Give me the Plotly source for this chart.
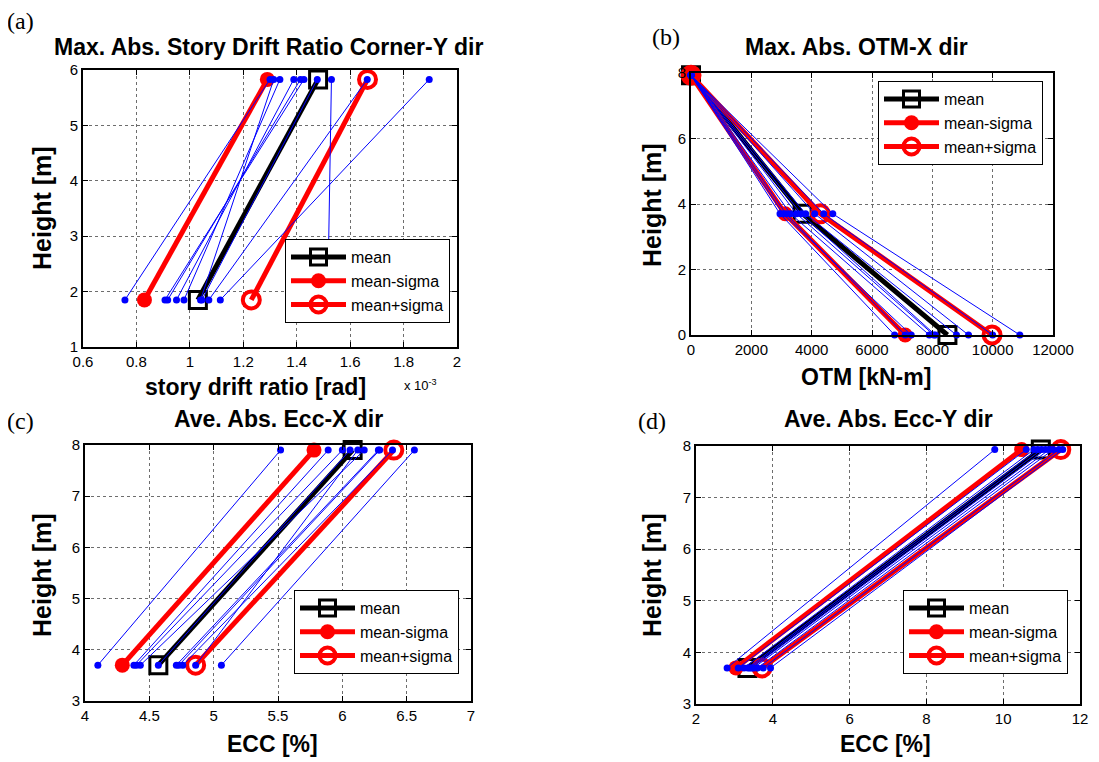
import plotly.graph_objects as go

# page body has an 8px margin, so the figure is drawn 8px in from the top-left
OFF = 8
W, H = 1099 - OFF, 762 - OFF

# ---------------- data ----------------
# (a) Max. Abs. Story Drift Ratio Corner-Y dir  (x values in units of 1e-3 rad)
a_heights = [1.85, 5.83]
a_runs_low = [0.757, 0.907, 0.917, 0.950, 0.978, 1.040, 1.071, 1.114, 1.516, 1.045]
a_runs_high = [1.300, 1.427, 1.414, 1.389, 1.337, 1.314, 1.664, 1.896, 1.530, 1.477]
a_mean = [1.03, 1.48]
a_mean_minus = [0.83, 1.29]
a_mean_plus = [1.23, 1.665]

# (b) Max. Abs. OTM-X dir  (kN-m)
b_heights = [0.0, 3.7, 7.93]
b_runs_base = [6750, 7300, 7100, 7900, 8050, 8100, 8800, 9200, 10000, 10900]
b_runs_mid = [2950, 3050, 3150, 3300, 3500, 3650, 3800, 4100, 4400, 4700]
b_runs_top = [0, 0, 0, 0, 0, 0, 0, 0, 0, 0]
b_mean = [8500, 3700, 0]
b_mean_minus = [7100, 3120, 0]
b_mean_plus = [9980, 4290, 0]

# (c) Ave. Abs. Ecc-X dir  (%)
c_heights = [3.7, 7.9]
c_runs_low = [4.10, 4.38, 4.40, 4.43, 4.57, 4.71, 4.73, 4.76, 4.86, 5.06]
c_runs_high = [5.52, 5.89, 6.00, 6.17, 6.06, 6.28, 6.29, 6.39, 6.12, 6.56]
c_mean = [4.57, 6.08]
c_mean_minus = [4.29, 5.78]
c_mean_plus = [4.86, 6.40]

# (d) Ave. Abs. Ecc-Y dir  (%)
d_heights = [3.7, 7.93]
d_runs_low = [2.81, 3.10, 3.25, 3.35, 3.40, 3.45, 3.50, 3.60, 3.75, 3.94]
d_runs_high = [9.78, 10.60, 10.80, 10.90, 11.00, 11.10, 11.20, 11.30, 11.45, 11.55]
d_mean = [3.34, 10.98]
d_mean_minus = [3.04, 10.48]
d_mean_plus = [3.72, 11.50]

titles = ["Max. Abs. Story Drift Ratio Corner-Y dir", "Max. Abs. OTM-X dir",
          "Ave. Abs. Ecc-X dir", "Ave. Abs. Ecc-Y dir"]
xlabels = ["story drift ratio [rad]", "OTM [kN-m]", "ECC [%]", "ECC [%]"]
ylabel = "Height [m]"
panel_tags = ["(a)", "(b)", "(c)", "(d)"]
legend_names = ["mean", "mean-sigma", "mean+sigma"]

# ---------------- layout helpers ----------------
def px_x(p):
    return (p - OFF) / W

def px_y(p):
    return 1 - (p - OFF) / H

FONT = "Liberation Sans, Arial, sans-serif"
SERIF = "Liberation Serif, Times New Roman, serif"

panels = [
    dict(xd=(83, 457), yd=(70, 347), xr=[0.6, 2.0], yr=[1, 6], dx=0.2, dy=1, leg=(285, 239)),
    dict(xd=(691, 1053), yd=(73, 335), xr=[0, 12000], yr=[0, 8], dx=2000, dy=2, leg=(878, 81)),
    dict(xd=(85, 471), yd=(445, 701), xr=[4, 7], yr=[3, 8], dx=0.5, dy=1, leg=(294, 590)),
    dict(xd=(696, 1080), yd=(446, 704), xr=[2, 12], yr=[3, 8], dx=2, dy=1, leg=(903, 590)),
]

fig = go.Figure()

def series_for(i):
    if i == 0:
        runs = [[lo, hi] for lo, hi in zip(a_runs_low, a_runs_high)]
        return a_heights, runs, a_mean, a_mean_minus, a_mean_plus
    if i == 1:
        runs = [[b0, m, t] for b0, m, t in zip(b_runs_base, b_runs_mid, b_runs_top)]
        return b_heights, runs, b_mean, b_mean_minus, b_mean_plus
    if i == 2:
        runs = [[lo, hi] for lo, hi in zip(c_runs_low, c_runs_high)]
        return c_heights, runs, c_mean, c_mean_minus, c_mean_plus
    runs = [[lo, hi] for lo, hi in zip(d_runs_low, d_runs_high)]
    return d_heights, runs, d_mean, d_mean_minus, d_mean_plus

for i, p in enumerate(panels):
    k = "" if i == 0 else str(i + 1)
    xa, ya = "x" + k, "y" + k
    legname = "legend" + k
    heights, runs, mean, mminus, mplus = series_for(i)

    fig.add_trace(go.Scatter(
        x=mean, y=heights, xaxis=xa, yaxis=ya, mode="lines+markers", name=legend_names[0],
        legend=legname, cliponaxis=False,
        line=dict(color="black", width=5),
        marker=dict(symbol="square-open", size=17, color="black", line=dict(width=3, color="black"))))
    fig.add_trace(go.Scatter(
        x=mminus, y=heights, xaxis=xa, yaxis=ya, mode="lines+markers", name=legend_names[1],
        legend=legname, cliponaxis=False,
        line=dict(color="red", width=5),
        marker=dict(symbol="circle", size=15, color="red")))
    fig.add_trace(go.Scatter(
        x=mplus, y=heights, xaxis=xa, yaxis=ya, mode="lines+markers", name=legend_names[2],
        legend=legname, cliponaxis=False,
        line=dict(color="red", width=5),
        marker=dict(symbol="circle-open", size=17, color="red", line=dict(width=4, color="red"))))
    for r in runs:
        fig.add_trace(go.Scatter(
            x=r, y=heights, xaxis=xa, yaxis=ya, mode="lines+markers", showlegend=False,
            cliponaxis=False,
            line=dict(color="blue", width=1),
            marker=dict(symbol="circle", size=7, color="blue")))

    axis_common = dict(
        showline=True, linecolor="black", linewidth=2, mirror="ticks",
        ticks="inside", ticklen=5, tickcolor="black", tickwidth=1,
        showgrid=True, gridcolor="rgba(60,60,60,0.75)", griddash="dot", gridwidth=1,
        zeroline=False, automargin=False,
        tickfont=dict(family=FONT, size=15, color="black"),
    )
    xkw = dict(axis_common, domain=[px_x(p["xd"][0]), px_x(p["xd"][1])], range=p["xr"],
               dtick=p["dx"], tick0=p["xr"][0], anchor=ya)
    if i == 1:
        xkw["tickformat"] = "d"
    ykw = dict(axis_common, domain=[px_y(p["yd"][1]), px_y(p["yd"][0])], range=p["yr"],
               dtick=p["dy"], tick0=p["yr"][0], anchor=xa)
    fig.update_layout(**{"xaxis" + k: xkw, "yaxis" + k: ykw})

    fig.update_layout(**{legname: dict(
        x=px_x(p["leg"][0]), y=px_y(p["leg"][1]), xanchor="left", yanchor="top",
        bgcolor="white", bordercolor="black", borderwidth=1,
        font=dict(family=FONT, size=16, color="black"),
        tracegroupgap=0, itemwidth=55)})

annotations = []
title_pos = [(268, 47), (856, 47), (278, 419), (888, 419)]
tag_pos = [(5, 6), (650, 22), (5, 406), (636, 406)]
xlab_pos = [(255, 387), (866, 377), (272, 744), (886, 744)]
ylab_pos = [(42, 208), (652, 205), (42, 575), (652, 575)]
for i in range(4):
    annotations.append(dict(text="<b>" + titles[i] + "</b>", x=px_x(title_pos[i][0]), y=px_y(title_pos[i][1]),
                            xref="paper", yref="paper", showarrow=False, xanchor="center", yanchor="middle",
                            font=dict(family=FONT, size=23, color="black")))
    annotations.append(dict(text=panel_tags[i], x=px_x(tag_pos[i][0]), y=px_y(tag_pos[i][1]),
                            xref="paper", yref="paper", showarrow=False, xanchor="left", yanchor="top",
                            font=dict(family=SERIF, size=24, color="black")))
    annotations.append(dict(text="<b>" + xlabels[i] + "</b>", x=px_x(xlab_pos[i][0]), y=px_y(xlab_pos[i][1]),
                            xref="paper", yref="paper", showarrow=False, xanchor="center", yanchor="middle",
                            font=dict(family=FONT, size=23, color="black")))
    annotations.append(dict(text="<b>" + ylabel + "</b>", x=px_x(ylab_pos[i][0]), y=px_y(ylab_pos[i][1]),
                            xref="paper", yref="paper", showarrow=False, textangle=-90,
                            xanchor="center", yanchor="middle",
                            font=dict(family=FONT, size=25, color="black")))
annotations.append(dict(text="x 10<sup>-3</sup>", x=px_x(402), y=px_y(385),
                        xref="paper", yref="paper", showarrow=False, xanchor="left", yanchor="middle",
                        font=dict(family=FONT, size=13, color="black")))

fig.update_layout(width=W, height=H, margin=dict(l=0, r=0, t=0, b=0, pad=0, autoexpand=False),
                  paper_bgcolor="white", plot_bgcolor="white",
                  annotations=annotations, showlegend=True)

fig.write_html("out.html")
